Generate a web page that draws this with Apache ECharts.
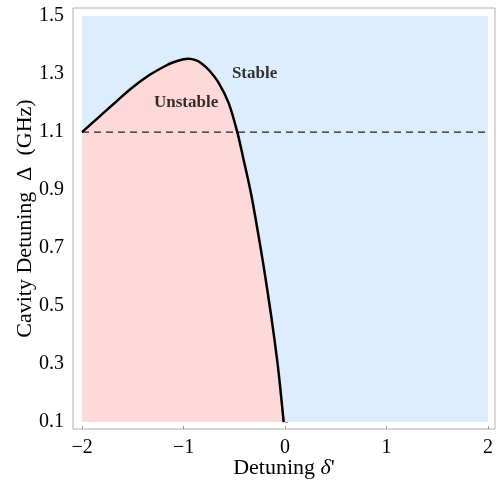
<!DOCTYPE html>
<html><head><meta charset="utf-8">
<script src="https://cdn.jsdelivr.net/npm/echarts@6/dist/echarts.min.js"></script>
<style>html,body{margin:0;padding:0;background:#fff;overflow:hidden}#c{width:497px;height:487px}</style>
</head><body><div id="c"></div>
<script>
// Data
const xTicks = [-2, -1, 0, 1, 2];
const yTicks = [0.1, 0.3, 0.5, 0.7, 0.9, 1.1, 1.3, 1.5];
const regionX = [-2, 2];
const regionY = [0.1, 1.5];
const curveX = [-2.00, -1.84, -1.67, -1.51, -1.34, -1.18, -1.10, -1.00, -0.95, -0.88, -0.819, -0.75, -0.654, -0.555, -0.47, -0.407, -0.342, -0.293, -0.21, -0.135, -0.079, -0.05, -0.013];
const curveY = [1.100, 1.150, 1.203, 1.252, 1.296, 1.328, 1.341, 1.351, 1.353, 1.348, 1.336, 1.314, 1.270, 1.200, 1.100, 1.003, 0.900, 0.808, 0.636, 0.463, 0.318, 0.228, 0.100];
const dashedY = 1.1;
const labelNames = ['Stable', 'Unstable'];
const labelX = [-0.30, -0.975];
const labelY = [1.30, 1.202];

const curve = curveX.map((x, i) => [x, curveY[i]]);
const serif = '"Liberation Serif", "DejaVu Serif", serif';
const fmt = v => {
  const r = Math.round(v * 10) / 10;
  const s = Number.isInteger(r) ? String(Math.abs(r)) : Math.abs(r).toFixed(1);
  return (r < 0 ? '\u2212' : '') + s;
};

const chart = echarts.init(document.getElementById('c'), null, {renderer: 'canvas'});
chart.setOption({
  animation: false,
  backgroundColor: '#fff',
  grid: {left: 73, right: 2, top: 8, bottom: 58, containLabel: false, outerBoundsMode: 'none', show: true, borderColor: '#b0b0b0', borderWidth: 1, backgroundColor: 'transparent'},
  xAxis: {
    type: 'value', min: -2.089, max: 2.069,
    name: 'Detuning {i|\u03b4}\'', nameLocation: 'middle', nameGap: 28, nameMoveOverlap: false,
    nameTextStyle: {fontFamily: serif, fontSize: 22, color: '#000', rich: {i: {fontFamily: serif, fontStyle: 'italic', fontSize: 22, color: '#000'}}},
    axisLine: {show: false},
    splitLine: {show: false},
    axisTick: {show: true, inside: true, length: 3, customValues: xTicks, lineStyle: {color: '#999'}},
    axisLabel: {customValues: xTicks, formatter: fmt, fontFamily: serif, fontSize: 20, color: '#000', margin: 9}
  },
  yAxis: {
    type: 'value', min: 0.076, max: 1.528,
    name: 'Cavity Detuning  \u0394  (GHz)', nameLocation: 'middle', nameGap: 37, nameMoveOverlap: false,
    nameTextStyle: {fontFamily: serif, fontSize: 22, color: '#000'},
    axisLine: {show: false},
    splitLine: {show: false},
    axisTick: {show: true, inside: true, length: 3, customValues: yTicks, lineStyle: {color: '#999'}},
    axisLabel: {customValues: yTicks, formatter: fmt, fontFamily: serif, fontSize: 20, color: '#000', margin: 9}
  },
  series: [
    {
      type: 'custom', silent: true, z: 1,
      data: [[regionX[0], regionY[0], regionX[1], regionY[1]]],
      renderItem: (params, api) => {
        const p0 = api.coord([api.value(0), api.value(1)]);
        const p1 = api.coord([api.value(2), api.value(3)]);
        return {type: 'rect', shape: {x: p0[0], y: p1[1], width: p1[0] - p0[0], height: p0[1] - p1[1]}, style: {fill: '#ddedfd'}};
      }
    },
    {
      type: 'custom', silent: true, z: 2,
      data: [0],
      renderItem: (params, api) => {
        const pts = curve.map(p => api.coord(p));
        pts.push(api.coord([curveX[0], regionY[0]]));
        return {type: 'polygon', shape: {points: pts, smooth: 0}, style: {fill: '#fdd9d9'}};
      }
    },
    {
      type: 'line', z: 4, data: [[regionX[0], dashedY], [regionX[1], dashedY]],
      symbol: 'none', lineStyle: {color: '#222', width: 1.4, type: [7, 5]}
    },
    {
      type: 'line', z: 5, data: curve, smooth: 0.3, symbol: 'none',
      lineStyle: {color: '#000', width: 2.5}
    },
    {
      type: 'scatter', z: 6, symbolSize: 0,
      data: labelNames.map((n, i) => ({name: n, value: [labelX[i], labelY[i]]})),
      label: {show: true, position: 'inside', formatter: p => p.name, fontFamily: serif, fontWeight: 'bold', fontSize: 17, color: '#000'}
    }
  ]
});
</script></body></html>
